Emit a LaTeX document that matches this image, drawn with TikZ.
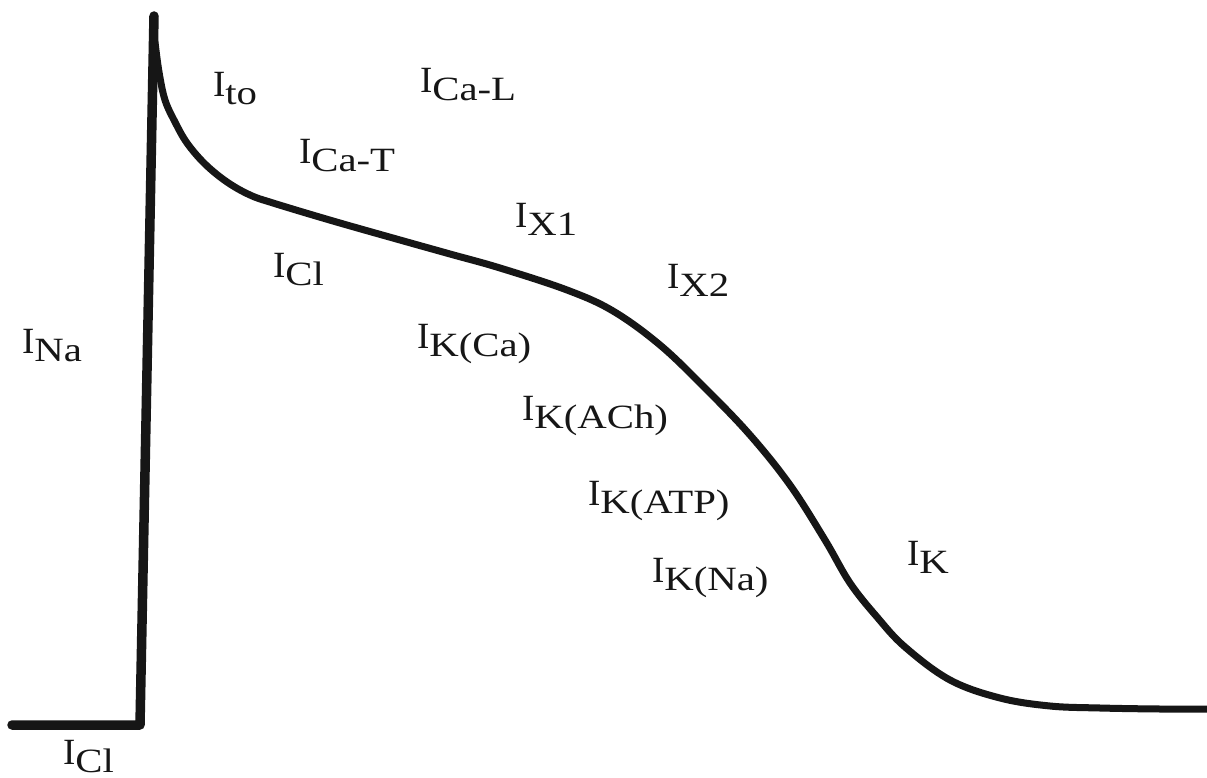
\documentclass[tikz,border=0pt]{standalone}
\usepackage{fontspec}
\setmainfont{Liberation Serif}
\newfontfamily\subfont[FakeStretch=1.2]{Liberation Serif}
\newcommand{\cur}[1]{I\raisebox{-8pt}{\fontsize{34}{36}\subfont #1}}
\definecolor{ink}{RGB}{22,22,22}
\tikzset{
  lbl/.style={anchor=base west, inner sep=0pt, outer sep=0pt, text=ink, font=\fontsize{37}{40}\selectfont},
  trace/.style={draw=ink, line width=7pt, line cap=round, line join=round},
  thick trace/.style={draw=ink, line width=9.5pt, line cap=round, line join=round}
}
\begin{document}
\begin{tikzpicture}[x=1pt,y=-1pt]
\clip (0,0) rectangle (1207,778);
\fill[white] (0,0) rectangle (1207,778);
% resting baseline and upstroke
\coordinate (rest0) at (12,725);
\coordinate (rest1) at (140,725);
\coordinate (peak) at (154,16);
\draw[thick trace] (rest0) -- (rest1) -- (peak);
% repolarisation
\draw[trace] plot[smooth, tension=0.6] coordinates {
 (155,42) (159,72) (165,100) (175,122) (187,143) (205,164) (227,182)
 (250,195) (273,203) (333,221) (400,240) (450,254) (500,268) (567,290)
 (613,311) (660,345) (705,388) (750,435) (790,485) (825,540) (850,583)
 (877,617) (905,647) (950,680) (1000,698) (1050,706) (1100,708)
 (1160,709) (1215,709)};
% labels
\node[lbl] (ito)  at (213,97)  {\cur{to}};
\node[lbl] (ical) at (420,93)  {\cur{Ca-L}};
\node[lbl] (icat) at (299,164) {\cur{Ca-T}};
\node[lbl] (ix1)  at (515,227) {\cur{X1}};
\node[lbl] (icl1) at (273,277) {\cur{Cl}};
\node[lbl] (ix2)  at (667,288) {\cur{X2}};
\node[lbl] (ina)  at (22,353)  {\cur{Na}};
\node[lbl] (ikca) at (417,348) {\cur{K(Ca)}};
\node[lbl] (ikach) at (522,420) {\cur{K(ACh)}};
\node[lbl] (ikatp) at (588,505) {\cur{K(ATP)}};
\node[lbl] (ikna) at (652,582) {\cur{K(Na)}};
\node[lbl] (ik)   at (907,565) {\cur{K}};
\node[lbl] (icl2) at (63,764)  {\cur{Cl}};
\end{tikzpicture}
\end{document}
